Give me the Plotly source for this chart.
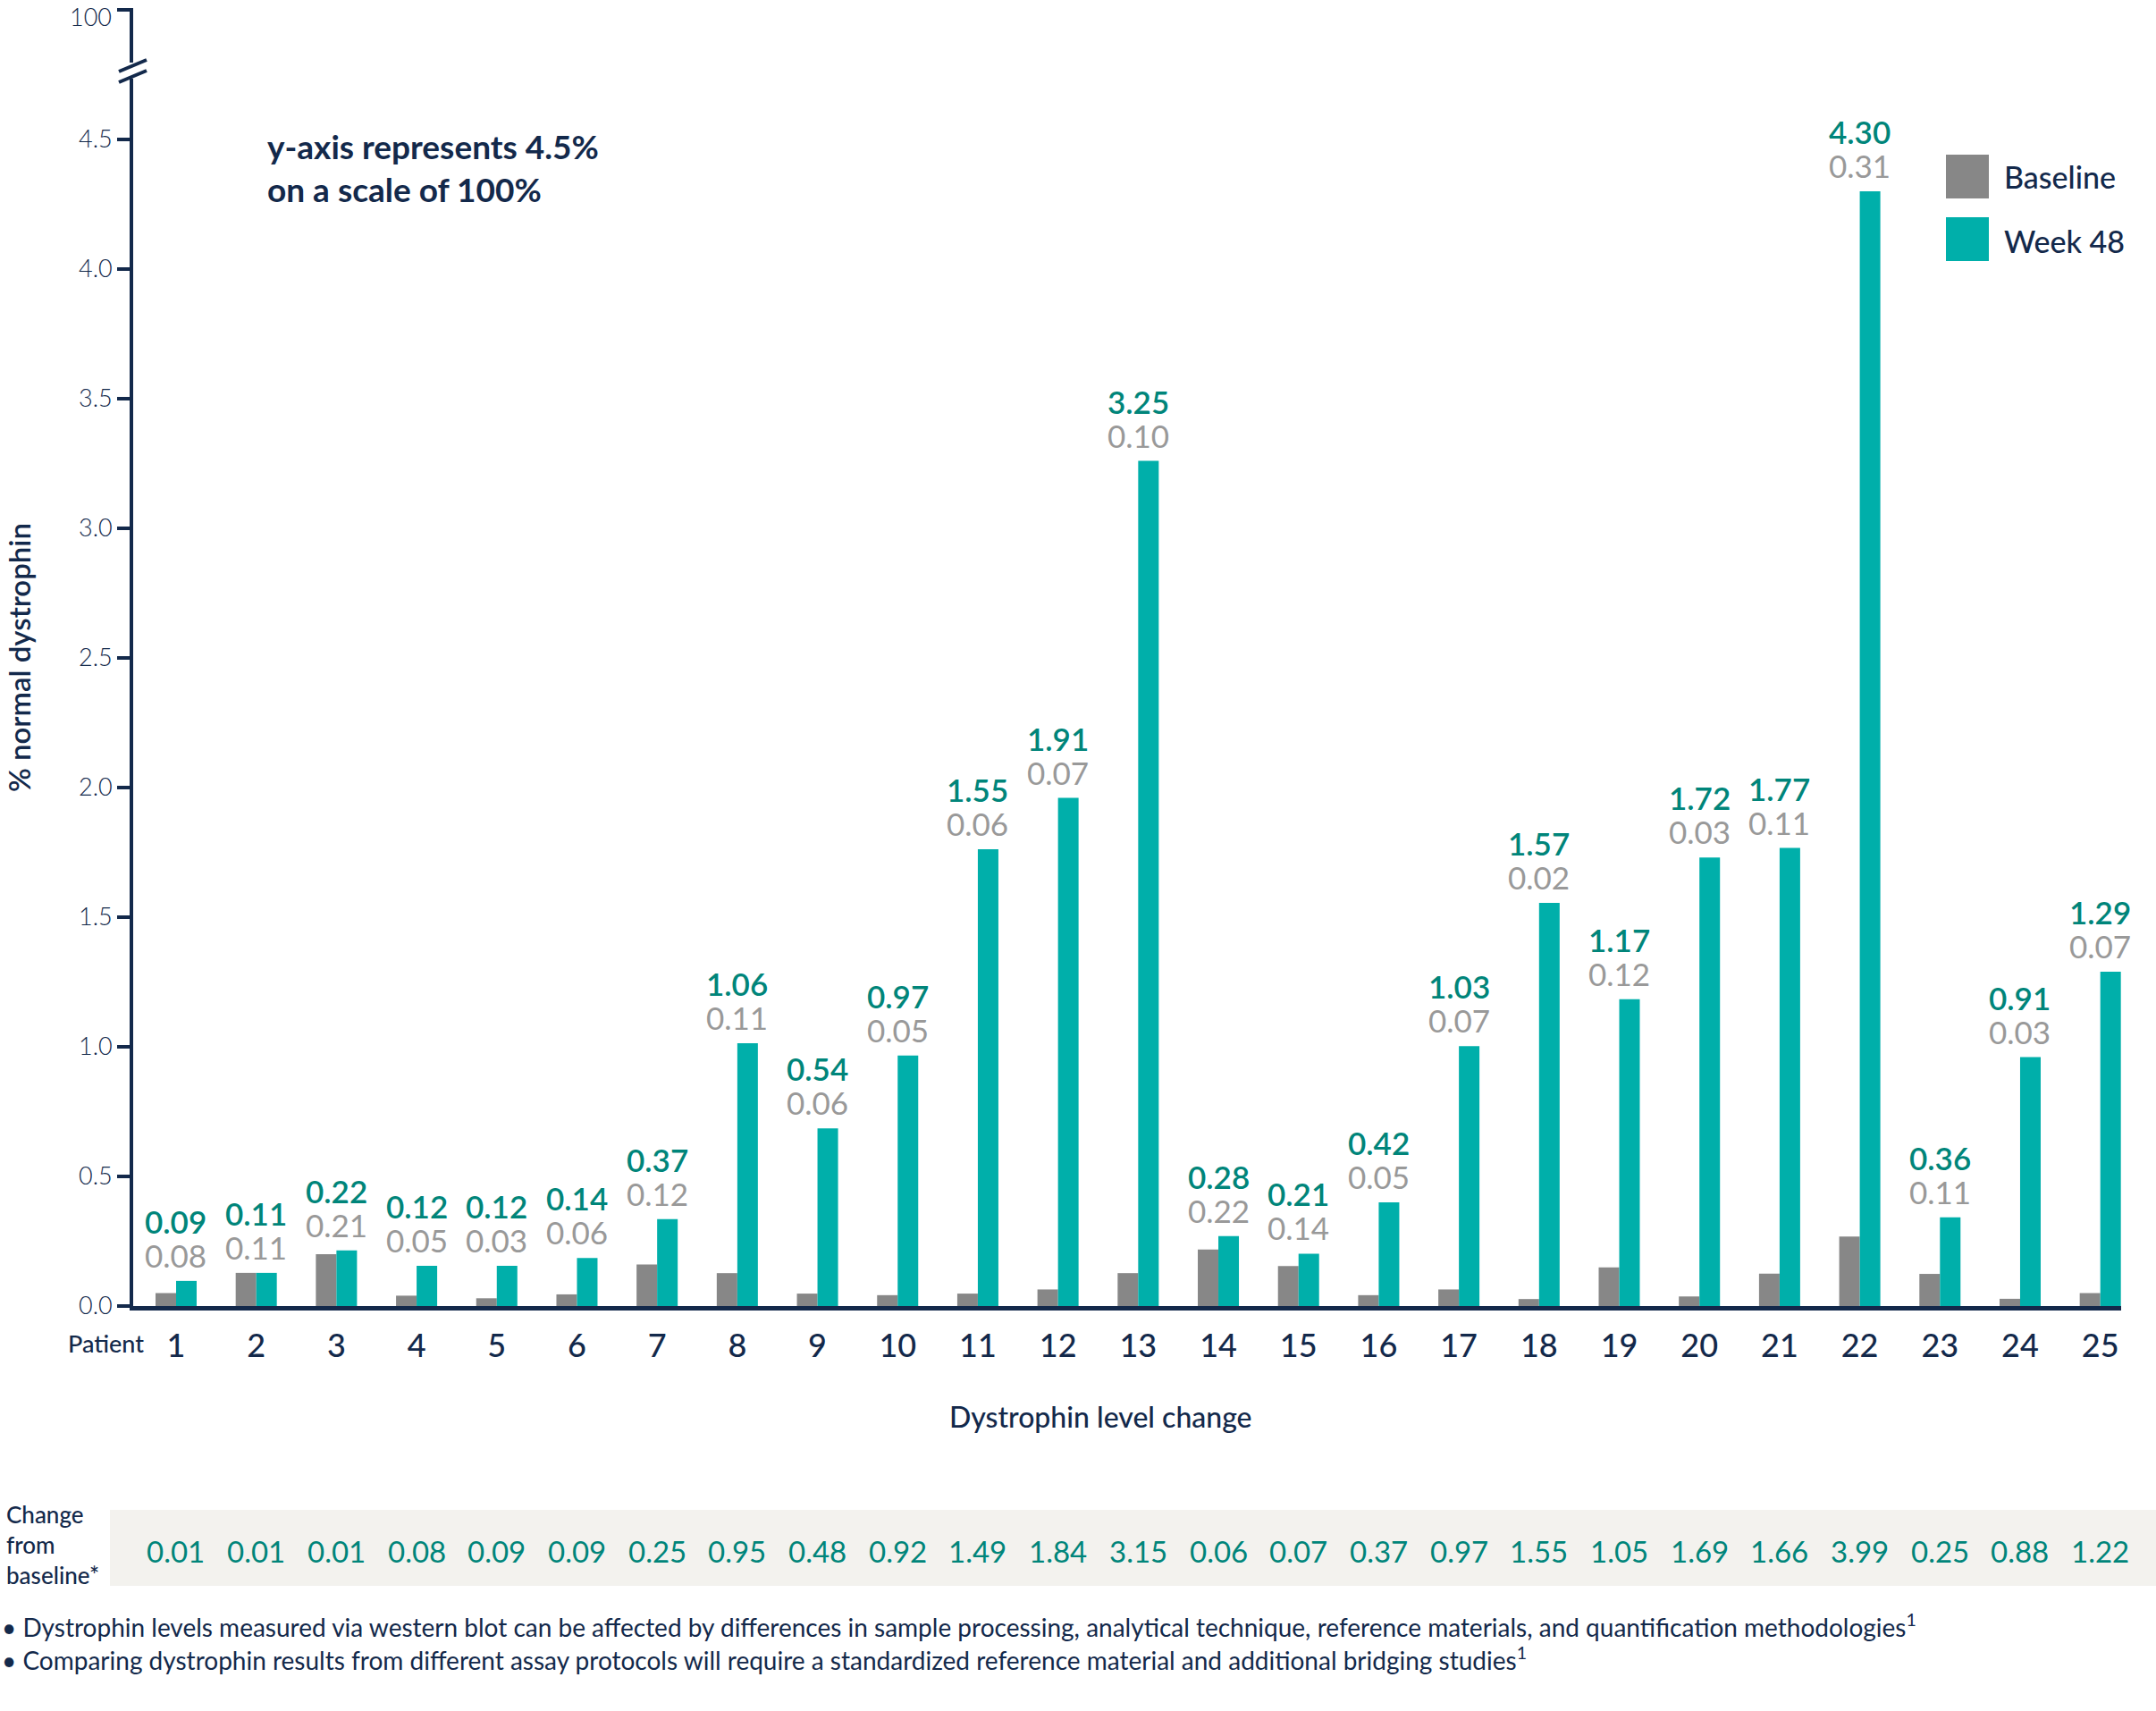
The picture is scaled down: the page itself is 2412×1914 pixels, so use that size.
import plotly.graph_objects as go

# ---------------- data ----------------
patients = list(range(1, 26))
baseline_bar = [0.05, 0.128, 0.20, 0.04, 0.03, 0.045, 0.16, 0.127, 0.048, 0.042,
                0.048, 0.064, 0.127, 0.218, 0.154, 0.042, 0.064, 0.027, 0.149, 0.037,
                0.125, 0.268, 0.124, 0.028, 0.05]
week48_bar = [0.097, 0.128, 0.215, 0.155, 0.155, 0.185, 0.335, 1.014, 0.685, 0.966,
              1.762, 1.96, 3.26, 0.27, 0.202, 0.40, 1.003, 1.555, 1.184, 1.73,
              1.767, 4.30, 0.342, 0.96, 1.29]
week48_lbl = ["0.09", "0.11", "0.22", "0.12", "0.12", "0.14", "0.37", "1.06", "0.54", "0.97",
              "1.55", "1.91", "3.25", "0.28", "0.21", "0.42", "1.03", "1.57", "1.17", "1.72",
              "1.77", "4.30", "0.36", "0.91", "1.29"]
baseline_lbl = ["0.08", "0.11", "0.21", "0.05", "0.03", "0.06", "0.12", "0.11", "0.06", "0.05",
                "0.06", "0.07", "0.10", "0.22", "0.14", "0.05", "0.07", "0.02", "0.12", "0.03",
                "0.11", "0.31", "0.11", "0.03", "0.07"]
change_lbl = ["0.01", "0.01", "0.01", "0.08", "0.09", "0.09", "0.25", "0.95", "0.48", "0.92",
              "1.49", "1.84", "3.15", "0.06", "0.07", "0.37", "0.97", "1.55", "1.05", "1.69",
              "1.66", "3.99", "0.25", "0.88", "1.22"]
y_tickvals = [0, 0.5, 1.0, 1.5, 2.0, 2.5, 3.0, 3.5, 4.0, 4.5, 5.0]
y_ticktext = ["0.0", "0.5", "1.0", "1.5", "2.0", "2.5", "3.0", "3.5", "4.0", "4.5", "100"]
series_names = ["Baseline", "Week 48"]

# ---------------- styles ----------------
NAVY = "#13294B"
GRAY_BAR = "#878787"
TEAL_BAR = "#00AFAA"
TEAL_TXT = "#00857A"
GRAY_TXT = "#999999"
FONT = "Lato"

W, H = 2412, 1914
ML, MR, MT, MB = 149, 39, 9, 453
PW, PH = W - ML - MR, H - MT - MB
YMAX = 5.0 + 2.0 / 290.0   # tiny headroom above the "100" tick


def px_x(p):
    return (p - ML) / PW


def px_y(p):
    return (H - MB - p) / PH


fig = go.Figure()
fig.add_trace(go.Bar(x=patients, y=baseline_bar, name=series_names[0],
                     marker=dict(color=GRAY_BAR, line=dict(width=0))))
fig.add_trace(go.Bar(x=patients, y=week48_bar, name=series_names[1],
                     marker=dict(color=TEAL_BAR, line=dict(width=0))))

ann = []
# value labels above bars + change-from-baseline row
for i, p in enumerate(patients):
    top = max(baseline_bar[i], week48_bar[i])
    ann.append(dict(x=p, y=top, xref="x", yref="y", text=baseline_lbl[i], showarrow=False,
                    yanchor="middle", xanchor="center", yshift=29,
                    font=dict(family=FONT, size=35, color=GRAY_TXT, weight=400)))
    ann.append(dict(x=p, y=top, xref="x", yref="y", text=week48_lbl[i], showarrow=False,
                    yanchor="middle", xanchor="center", yshift=67,
                    font=dict(family=FONT, size=35, color=TEAL_TXT, weight=600)))
    ann.append(dict(x=p, y=px_y(1735), xref="x", yref="paper", text=change_lbl[i], showarrow=False,
                    yanchor="middle", xanchor="center",
                    font=dict(family=FONT, size=33, color=TEAL_TXT, weight=400)))

ann += [
    # top "100" tick label placed just inside the page so it is not clipped
    dict(x=0, y=px_y(0), xref="paper", yref="paper", text=y_ticktext[-1], showarrow=False,
         xanchor="right", yanchor="top", xshift=-22,
         font=dict(family=FONT, size=27, color=NAVY, weight=300)),
    dict(x=px_x(163), y=px_y(1502), xref="paper", yref="paper", text="Patient", showarrow=False,
         xanchor="right", yanchor="middle", font=dict(family=FONT, size=27, color=NAVY, weight=500)),
    dict(x=px_x(1231), y=px_y(1584), xref="paper", yref="paper", text="Dystrophin level change",
         showarrow=False, xanchor="center", yanchor="middle",
         font=dict(family=FONT, size=32, color=NAVY, weight=500)),
    dict(x=px_x(21), y=px_y(736), xref="paper", yref="paper", text="% normal dystrophin",
         showarrow=False, textangle=-90, xanchor="center", yanchor="middle",
         font=dict(family=FONT, size=33, color=NAVY, weight=600)),
    dict(x=px_x(297), y=px_y(163), xref="paper", yref="paper", text="y-axis represents 4.5%",
         showarrow=False, xanchor="left", yanchor="middle",
         font=dict(family=FONT, size=37, color=NAVY, weight=700)),
    dict(x=px_x(297), y=px_y(211), xref="paper", yref="paper", text="on a scale of 100%",
         showarrow=False, xanchor="left", yanchor="middle",
         font=dict(family=FONT, size=37, color=NAVY, weight=700)),
    dict(x=px_x(2240), y=px_y(198), xref="paper", yref="paper", text=series_names[0],
         showarrow=False, xanchor="left", yanchor="middle",
         font=dict(family=FONT, size=34, color=NAVY, weight=500)),
    dict(x=px_x(2240), y=px_y(269), xref="paper", yref="paper", text=series_names[1],
         showarrow=False, xanchor="left", yanchor="middle",
         font=dict(family=FONT, size=34, color=NAVY, weight=500)),
    dict(x=px_x(5), y=px_y(1728), xref="paper", yref="paper", text="Change<br>from<br>baseline*",
         showarrow=False, xanchor="left", yanchor="middle", align="left",
         font=dict(family=FONT, size=26, color=NAVY, weight=500)),
    dict(x=px_x(0), y=px_y(1818), xref="paper", yref="paper",
         text="• Dystrophin levels measured via western blot can be affected by differences in sample processing, "
              "analytical technique, reference materials, and quantification methodologies<sup>1</sup>",
         showarrow=False, xanchor="left", yanchor="middle",
         font=dict(family=FONT, size=28, color=NAVY, weight=400)),
    dict(x=px_x(0), y=px_y(1855), xref="paper", yref="paper",
         text="• Comparing dystrophin results from different assay protocols will require a standardized "
              "reference material and additional bridging studies<sup>1</sup>",
         showarrow=False, xanchor="left", yanchor="middle",
         font=dict(family=FONT, size=28, color=NAVY, weight=400)),
]

shapes = [
    # table background
    dict(type="rect", xref="paper", yref="paper", x0=px_x(123), x1=px_x(W), y0=px_y(1689), y1=px_y(1774),
         fillcolor="#F3F2EE", line=dict(width=0), layer="below"),
    # legend squares
    dict(type="rect", xref="paper", yref="paper", x0=px_x(2177), x1=px_x(2225), y0=px_y(222), y1=px_y(173),
         fillcolor=GRAY_BAR, line=dict(width=0)),
    dict(type="rect", xref="paper", yref="paper", x0=px_x(2177), x1=px_x(2225), y0=px_y(292), y1=px_y(243),
         fillcolor=TEAL_BAR, line=dict(width=0)),
    # axis break: white gap then two slashes
    dict(type="line", xref="paper", yref="paper", x0=0, x1=0, y0=px_y(88), y1=px_y(70),
         line=dict(color="white", width=8), layer="above"),
    dict(type="line", xref="paper", yref="paper", x0=px_x(133), x1=px_x(164), y0=px_y(80), y1=px_y(67),
         line=dict(color=NAVY, width=4), layer="above"),
    dict(type="line", xref="paper", yref="paper", x0=px_x(133), x1=px_x(164), y0=px_y(92), y1=px_y(79),
         line=dict(color=NAVY, width=4), layer="above"),
]

fig.update_layout(
    width=W, height=H, autosize=False,
    margin=dict(l=ML, r=MR, t=MT, b=MB, pad=0, autoexpand=False),
    paper_bgcolor="white", plot_bgcolor="white",
    barmode="group", bargap=0.487, bargroupgap=0,
    showlegend=False,
    annotations=ann, shapes=shapes,
    font=dict(family=FONT, color=NAVY),
    xaxis=dict(range=[0.465, 25.26], tickmode="array", tickvals=patients, automargin=False,
               ticktext=[str(p) for p in patients], showgrid=False, zeroline=False,
               showline=True, linecolor=NAVY, linewidth=5, ticks="", ticklabelstandoff=9,
               tickfont=dict(family=FONT, size=36, color=NAVY, weight=500)),
    yaxis=dict(range=[0, YMAX], tickmode="array", tickvals=y_tickvals,
               ticktext=y_ticktext[:-1] + [""],
               automargin=False,
               showgrid=False, zeroline=False, showline=True, linecolor=NAVY, linewidth=4,
               ticks="outside", ticklen=14, tickwidth=4, tickcolor=NAVY,
               tickfont=dict(family=FONT, size=27, color=NAVY, weight=300)),
)

fig.write_html("out.html", config={"displayModeBar": False},
               post_script="document.body.style.margin='0';")
